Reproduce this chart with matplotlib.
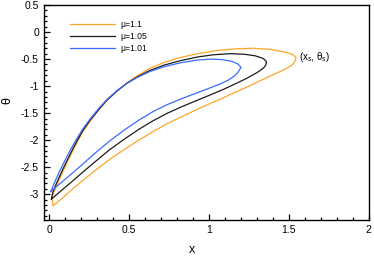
import matplotlib

matplotlib.use("Agg")
import matplotlib.pyplot as plt
from matplotlib.ticker import MultipleLocator, FuncFormatter

plt.rcParams["font.family"] = ["Liberation Sans", "DejaVu Sans"]

# curves: upper branch (bottom -> tip), lower branch (tip -> bottom)
ORANGE_UP_X = [0.025, 0.015, 0.03, 0.06, 0.09, 0.13, 0.17, 0.21, 0.26, 0.31, 0.36, 0.42, 0.48, 0.55, 0.63,
               0.72, 0.82, 0.93, 1.05, 1.17, 1.28, 1.38, 1.46, 1.52, 1.545]
ORANGE_UP_Y = [-3.21, -3.07, -2.95, -2.74, -2.55, -2.30, -2.06, -1.84, -1.63, -1.44, -1.27, -1.10, -0.95, -0.81, -0.67,
               -0.56, -0.47, -0.40, -0.34, -0.31, -0.30, -0.32, -0.36, -0.41, -0.47]
ORANGE_LO_X = [1.535, 1.515, 1.48, 1.43, 1.37, 1.30, 1.22, 1.13, 1.04, 0.94, 0.84, 0.74, 0.65, 0.56, 0.47,
               0.38, 0.30, 0.22, 0.15, 0.09, 0.05, 0.025]
ORANGE_LO_Y = [-0.56, -0.62, -0.68, -0.75, -0.83, -0.93, -1.04, -1.16, -1.28, -1.41, -1.55, -1.69, -1.84, -2.00, -2.17,
               -2.35, -2.53, -2.72, -2.89, -3.05, -3.15, -3.21]

BLACK_UP_X = [0.013, 0.02, 0.04, 0.07, 0.10, 0.13, 0.17, 0.21, 0.26, 0.31, 0.36, 0.42, 0.48, 0.55, 0.63,
              0.72, 0.82, 0.93, 1.03, 1.13, 1.22, 1.29, 1.34, 1.36]
BLACK_UP_Y = [-3.09, -2.98, -2.83, -2.63, -2.44, -2.26, -2.03, -1.82, -1.61, -1.43, -1.26, -1.10, -0.96, -0.83, -0.71,
              -0.61, -0.53, -0.46, -0.42, -0.40, -0.41, -0.44, -0.49, -0.55]
BLACK_LO_X = [1.355, 1.34, 1.30, 1.24, 1.17, 1.09, 1.01, 0.92, 0.83, 0.74, 0.65, 0.56, 0.47, 0.38, 0.29,
              0.21, 0.14, 0.08, 0.04, 0.013]
BLACK_LO_Y = [-0.61, -0.67, -0.75, -0.85, -0.95, -1.06, -1.16, -1.27, -1.38, -1.50, -1.64, -1.80, -1.98, -2.17, -2.39,
              -2.59, -2.77, -2.92, -3.02, -3.09]

BLUE_UP_X = [0.009, 0.03, 0.06, 0.09, 0.13, 0.17, 0.21, 0.26, 0.31, 0.36, 0.42, 0.48, 0.55, 0.63, 0.72,
             0.82, 0.92, 1.01, 1.08, 1.14, 1.18, 1.20]
BLUE_UP_Y = [-2.95, -2.80, -2.60, -2.42, -2.19, -1.98, -1.79, -1.59, -1.41, -1.25, -1.09, -0.96, -0.84, -0.73, -0.64,
             -0.57, -0.52, -0.50, -0.51, -0.54, -0.59, -0.65]
BLUE_LO_X = [1.185, 1.16, 1.12, 1.07, 1.00, 0.92, 0.83, 0.74, 0.65, 0.56, 0.47, 0.38, 0.29, 0.21, 0.14,
             0.08, 0.04, 0.009]
BLUE_LO_Y = [-0.73, -0.81, -0.89, -0.96, -1.04, -1.13, -1.23, -1.34, -1.47, -1.63, -1.81, -2.01, -2.23, -2.44, -2.62,
             -2.77, -2.87, -2.95]

LABELS = ["\u03bc=1.1", "\u03bc=1.05", "\u03bc=1.01"]
COLORS = ["#ffa42a", "#1c1c1c", "#3a6cff"]

fig = plt.figure(figsize=(3.74, 2.64), dpi=100)
ax = fig.add_axes([0.117, 0.168, 0.869, 0.813])

curves = [
    (ORANGE_UP_X + ORANGE_LO_X, ORANGE_UP_Y + ORANGE_LO_Y),
    (BLACK_UP_X + BLACK_LO_X, BLACK_UP_Y + BLACK_LO_Y),
    (BLUE_UP_X + BLUE_LO_X, BLUE_UP_Y + BLUE_LO_Y),
]
for (xs, ys), c, lab in zip(curves, COLORS, LABELS):
    ax.plot(xs, ys, color=c, lw=0.9, label=lab)

ax.set_xlim(-0.035, 2.0)
ax.set_ylim(-3.47, 0.5)
ax.xaxis.set_major_locator(MultipleLocator(0.5))
ax.xaxis.set_minor_locator(MultipleLocator(0.1))
ax.yaxis.set_major_locator(MultipleLocator(0.5))
ax.yaxis.set_minor_locator(MultipleLocator(0.1))
fmt = FuncFormatter(lambda v, p: "%g" % v if abs(v) > 1e-9 else "0")
ax.xaxis.set_major_formatter(fmt)
ax.yaxis.set_major_formatter(fmt)
ax.tick_params(which="both", direction="in", top=False, right=False, labelsize=7.5, width=0.9)
ax.tick_params(which="major", length=4.5)
ax.tick_params(which="minor", length=2.5)
for s in ax.spines.values():
    s.set_linewidth(1.0)

ax.set_xlabel("x", fontsize=9)
ax.set_ylabel("\u03b8", fontsize=9)
ax.xaxis.set_label_coords(0.456, -0.115)
ax.yaxis.set_label_coords(-0.095, 0.557)

ax.text(1.563, -0.47, r"(x$_\mathregular{s}$, $\mathregular{\theta_s}$)", fontsize=7, va="center", ha="left")

ax.legend(loc="upper left", bbox_to_anchor=(0.081, 0.93), frameon=False, fontsize=6.2,
          handlelength=5.2, handletextpad=0.6, labelspacing=0.35, borderpad=0, borderaxespad=0)

fig.savefig("out.png", dpi=100)
